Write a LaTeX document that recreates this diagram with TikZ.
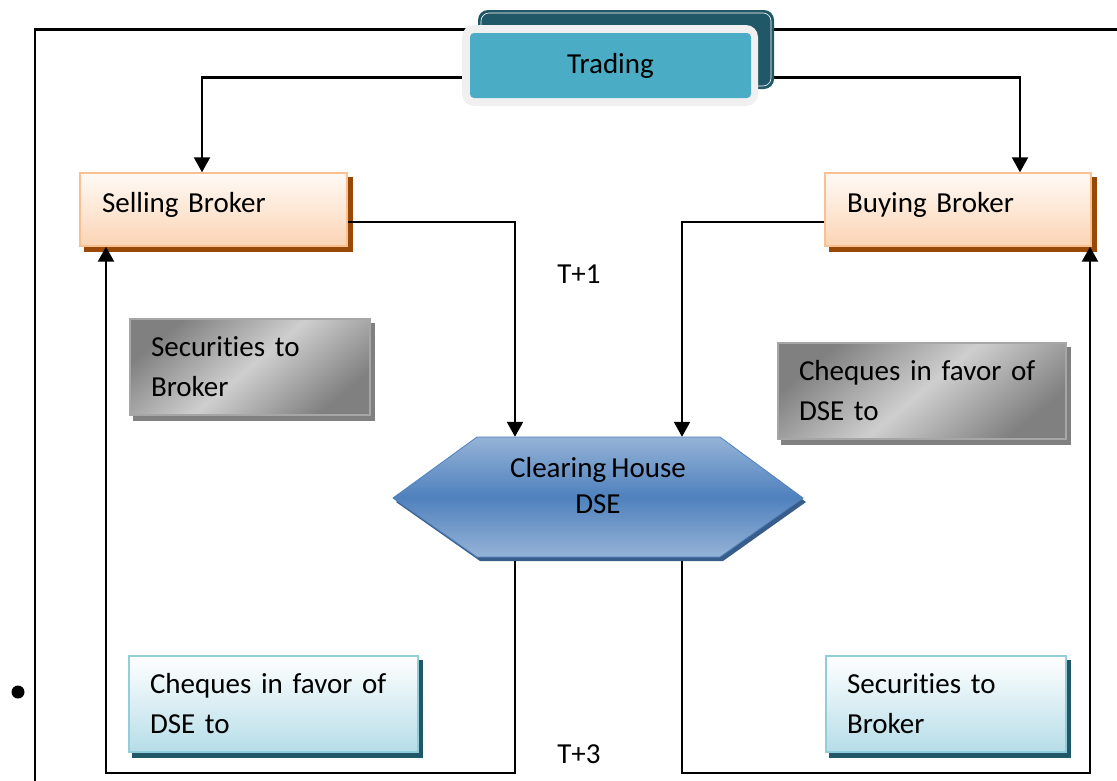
\documentclass[tikz,border=0pt]{standalone}
\usepackage{fontspec}
\setmainfont{Carlito}[Ligatures=NoCommon, WordSpace=0.8]
\usetikzlibrary{arrows.meta,backgrounds}
\definecolor{tealdark}{HTML}{215867}
\definecolor{tealmid}{HTML}{4BACC6}
\definecolor{peach}{HTML}{FBD4B4}
\definecolor{peachline}{HTML}{FAC090}
\definecolor{brownsh}{HTML}{984807}
\definecolor{hexlight}{HTML}{95B3D7}
\definecolor{hexmid}{HTML}{4F81BD}
\definecolor{hexshadow}{HTML}{385D8A}
\definecolor{lblue}{HTML}{B6DDE8}
\definecolor{lblueline}{HTML}{92CDDC}
\tikzset{
 conn/.style={line width=2.2pt, -{Triangle[length=15pt,width=16pt]}},
 plain/.style={line width=2.2pt},
 txt/.style={font=\fontsize{29}{40}\selectfont},
 broker/.style={txt, draw=peachline, line width=1.4pt, top color=peach!12, bottom color=peach, inner xsep=22pt, inner ysep=0pt, minimum height=73pt, text depth=14pt, align=left},
 graybox/.style={txt, draw=black!35, line width=1.4pt, left color=black!50, right color=black!50, middle color=black!19, shading angle=40, inner xsep=21pt, inner ysep=0pt, minimum height=96pt, align=left},
 bluebox/.style={txt, draw=lblueline, line width=1.4pt, top color=white, bottom color=lblue, inner xsep=21pt, inner ysep=0pt, minimum height=96pt, align=left},
}
\begin{document}
\begin{tikzpicture}[x=1pt,y=-1pt]
\useasboundingbox (0,0) rectangle (1117,780);
% Trading
\fill[tealdark, rounded corners=10pt] (478,10) rectangle (774,89);
\draw[white, line width=0.6pt, rounded corners=8pt] (481,13) rectangle (771,86);
\fill[black!6, rounded corners=12pt] (462,25) rectangle (758,106);
\node[txt, fill=tealmid, rounded corners=4pt, minimum width=281pt, minimum height=65pt, inner sep=0pt] (trading) at (610.5,65.5) {Trading};
% brokers
\node[broker, text width=223pt] (sell) at (213.5,209.5) {Selling Broker};
\node[broker, text width=222pt] (buy) at (958,209.5) {Buying Broker};
% gray boxes
\node[graybox, text width=198pt] (secL) at (250,367) {Securities to\\Broker};
\node[graybox, text width=246pt] (chqR) at (922,391) {Cheques in favor of\\DSE to};
% blue boxes
\node[bluebox, text width=247pt] (chqL) at (273.5,704) {Cheques in favor of\\DSE to};
\node[bluebox, text width=198pt] (secR) at (946,704) {Securities to\\Broker};
% hexagon
\fill[hexshadow, shift={(3,4)}] (393,498) -- (477,437) -- (720,437) -- (803,498) -- (720,557) -- (477,557) -- cycle;
\path[draw=hexmid, line width=0.8pt, top color=hexlight, bottom color=hexlight, middle color=hexmid] (393,498) -- (477,437) -- (720,437) -- (803,498) -- (720,557) -- (477,557) -- cycle;
\node[minimum width=410pt, minimum height=120pt, inner sep=0pt] (hex) at (598,497) {};
\node[txt, align=center, font=\fontsize{29}{36}\selectfont] (hexlabel) at (598,486) {Clearing House\\DSE};
% labels
\node[txt] (t1) at (579,274) {T+1};
\node[txt] (t3) at (579,754) {T+3};
\fill (18,692) circle (6.5pt);
\coordinate (base) at (0,773);
\begin{scope}[on background layer]
 \draw[plain] (35,781) -- (35,29.5) -- (1117,29.5);
 \fill[brownsh] ([shift={(5pt,-5pt)}]sell.south west) rectangle ([shift={(5pt,-5pt)}]sell.north east);
 \fill[brownsh] ([shift={(5pt,-5pt)}]buy.south west) rectangle ([shift={(5pt,-5pt)}]buy.north east);
 \fill[black!50] ([shift={(4pt,-5pt)}]secL.south west) rectangle ([shift={(4pt,-5pt)}]secL.north east);
 \fill[black!50] ([shift={(4pt,-5pt)}]chqR.south west) rectangle ([shift={(4pt,-5pt)}]chqR.north east);
 \fill[tealdark] ([shift={(4pt,-5pt)}]chqL.south west) rectangle ([shift={(4pt,-5pt)}]chqL.north east);
 \fill[tealdark] ([shift={(4pt,-5pt)}]secR.south west) rectangle ([shift={(4pt,-5pt)}]secR.north east);
 \draw[conn] ([yshift=-12pt]trading.west) -| ([xshift=-11.5pt]sell.north);
 \draw[conn] ([yshift=-12pt]trading.east) -| ([xshift=62pt]buy.north);
 \draw[conn] ([yshift=-12.5pt]sell.east) -| ([xshift=-83pt]hex.north);
 \draw[conn] ([yshift=-12.5pt]buy.west) -| ([xshift=84pt]hex.north);
 \coordinate (hb1) at ([xshift=-83pt]hex.south);
 \coordinate (hb2) at ([xshift=84pt]hex.south);
 \draw[conn] (hb1) -- (hb1 |- base) -| ([xshift=-107.5pt]sell.south);
 \draw[conn] (hb2) -- (hb2 |- base) -| ([xshift=132pt]buy.south);
\end{scope}
\end{tikzpicture}
\end{document}
